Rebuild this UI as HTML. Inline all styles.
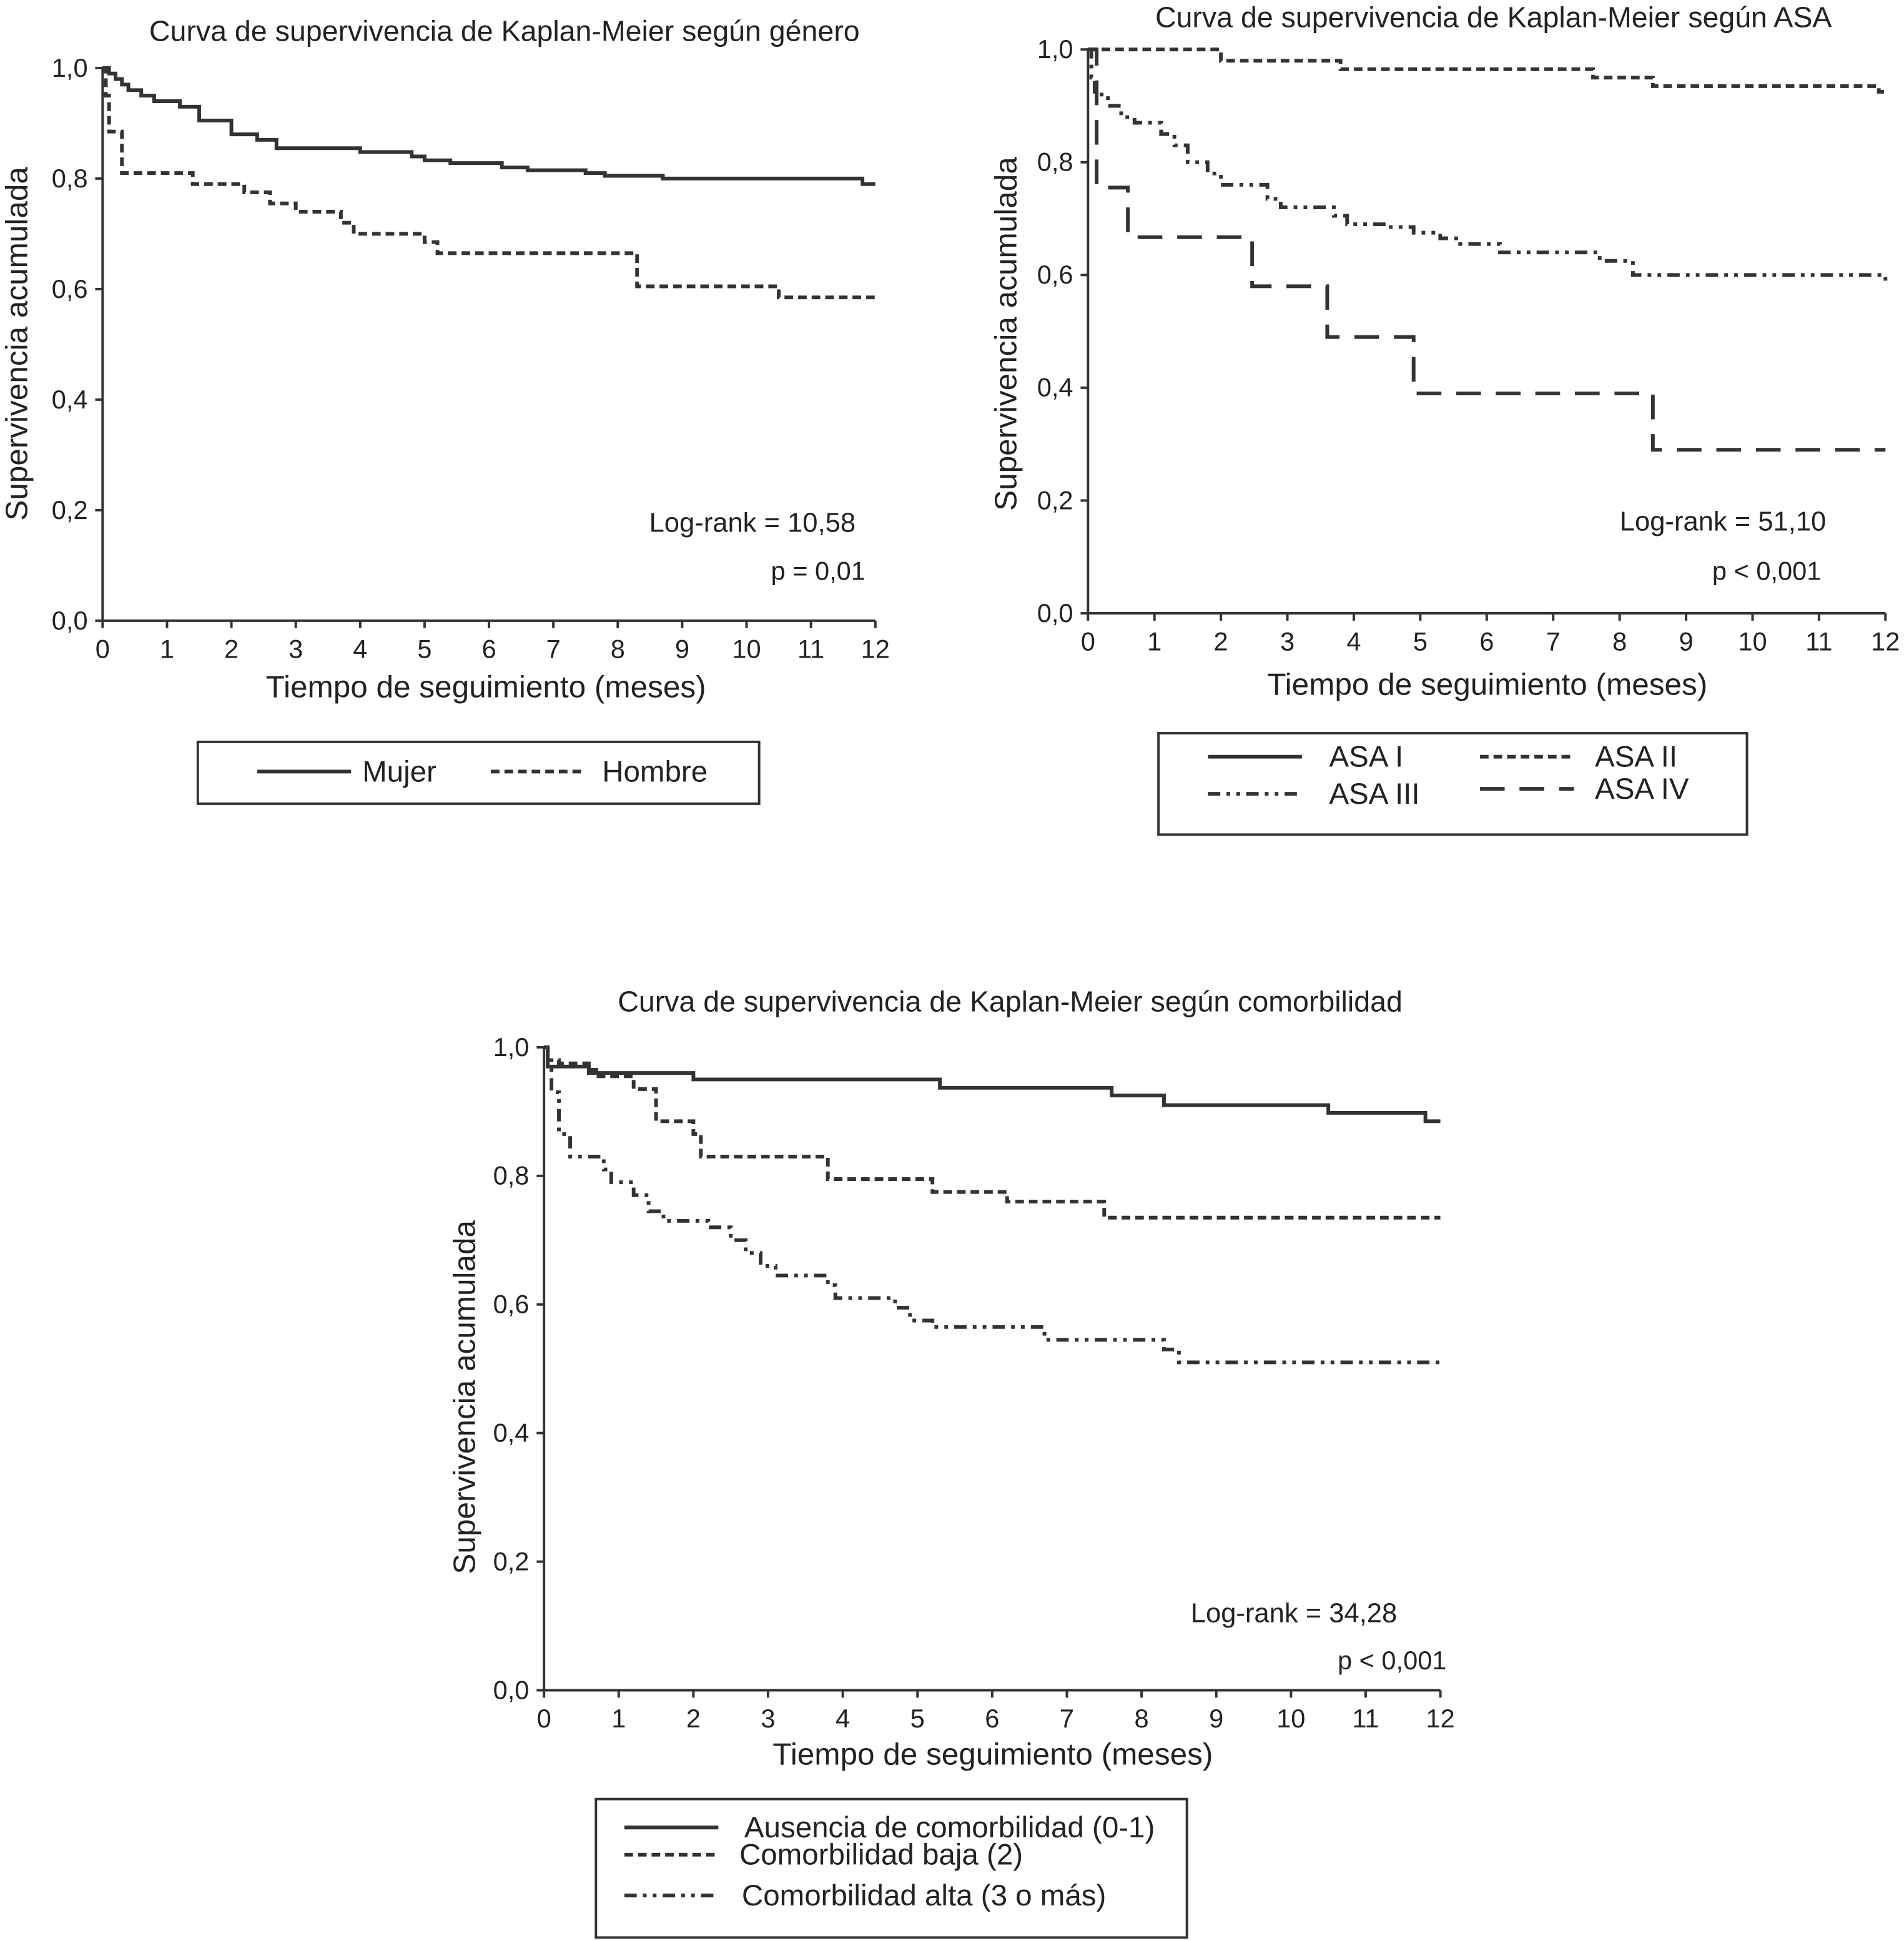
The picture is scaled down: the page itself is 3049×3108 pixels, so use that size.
<!DOCTYPE html>
<html><head><meta charset="utf-8"><style>
html,body{margin:0;padding:0;background:#fff}
svg{display:block}
text{font-family:"Liberation Sans",sans-serif;fill:#222}
</style></head><body>
<svg id="root" width="3049" height="3108" viewBox="0 0 1540 1569.8" xmlns="http://www.w3.org/2000/svg"></svg>
<script>
// ---- Chart 1 data (género)
const mujerT=[0,0.1,0.2,0.3,0.4,0.6,0.8,1.2,1.5,2.0,2.4,2.7,4.0,4.8,5.0,5.4,6.2,6.6,7.5,7.8,8.7,11.8,12];
const mujerS=[1,0.99,0.98,0.97,0.96,0.95,0.94,0.93,0.905,0.88,0.87,0.855,0.848,0.84,0.833,0.828,0.82,0.815,0.81,0.805,0.80,0.79,0.79];
const hombreT=[0,0.05,0.1,0.3,1.4,2.2,2.6,3.0,3.7,3.9,5.0,5.2,8.3,10.5,12];
const hombreS=[1,0.95,0.885,0.81,0.79,0.775,0.755,0.74,0.72,0.70,0.685,0.665,0.605,0.585,0.585];
// ---- Chart 2 data (ASA)
const asa2T=[0,2.0,3.8,7.6,8.5,11.9,12];
const asa2S=[1,0.98,0.965,0.95,0.935,0.925,0.925];
const asa3T=[0,0.05,0.1,0.3,0.5,0.7,1.1,1.3,1.5,1.8,2.0,2.7,2.9,3.7,3.9,4.5,4.9,5.3,5.6,6.2,7.7,8.2,12];
const asa3S=[1,0.95,0.92,0.9,0.88,0.87,0.85,0.83,0.80,0.78,0.76,0.735,0.72,0.705,0.69,0.685,0.675,0.665,0.655,0.64,0.625,0.60,0.59];
const asa4T=[0,0.13,0.6,2.47,3.6,4.9,8.5,12];
const asa4S=[1,0.755,0.667,0.58,0.49,0.39,0.29,0.29];
// ---- Chart 3 data (comorbilidad)
const ausT=[0,0.05,0.6,2.0,5.3,7.6,8.3,10.5,11.8,12];
const ausS=[1,0.97,0.96,0.95,0.937,0.925,0.91,0.898,0.885,0.885];
const bajaT=[0,0.05,0.2,0.6,0.7,1.2,1.5,2.0,2.1,3.8,5.2,6.2,7.5,12];
const bajaS=[1,0.98,0.975,0.965,0.955,0.935,0.885,0.865,0.83,0.795,0.775,0.76,0.735,0.735];
const altaT=[0,0.05,0.1,0.2,0.35,0.8,0.9,1.2,1.4,1.6,2.2,2.5,2.7,2.9,3.1,3.8,3.9,4.7,4.9,5.2,6.7,8.3,8.5,12];
const altaS=[1,0.97,0.93,0.865,0.83,0.81,0.79,0.77,0.745,0.73,0.72,0.70,0.68,0.66,0.645,0.63,0.61,0.595,0.575,0.565,0.545,0.53,0.51,0.51];
const xTicks=[0,1,2,3,4,5,6,7,8,9,10,11,12];
const yTicks=[0,0.2,0.4,0.6,0.8,1.0];

const NS="http://www.w3.org/2000/svg";
const root=document.getElementById('root');
function mk(tag,attrs,parent,txt){const e=document.createElementNS(NS,tag);for(const k in attrs)e.setAttribute(k,attrs[k]);if(txt!==undefined)e.textContent=txt;(parent||root).appendChild(e);return e;}

function chart(cfg){
  const g=mk('g',{});
  
  
  const X=t=>cfg.x0+(cfg.x1-cfg.x0)*t/12;
  const Y=s=>cfg.y0+(cfg.y1-cfg.y0)*s;
  const t=mk('text',{x:cfg.tx,y:cfg.ty,'font-size':23.5,'text-anchor':'middle'},g,cfg.title);
  
  
  const ax=mk('path',{d:`M${cfg.x0},${Y(1)-1}V${cfg.y0}H${cfg.x1}`,stroke:'#333','stroke-width':2,fill:'none'},g);
  
  
  xTicks.forEach(v=>{
    mk('line',{x1:X(v),x2:X(v),y1:cfg.y0,y2:cfg.y0+6,stroke:'#333','stroke-width':2},g);
    const l=mk('text',{x:X(v),y:cfg.y0+30,'font-size':21,'text-anchor':'middle'},g,String(v));
    
    
  });
  yTicks.forEach(v=>{
    mk('line',{x1:cfg.x0-6,x2:cfg.x0,y1:Y(v),y2:Y(v),stroke:'#333','stroke-width':2},g);
    const l=mk('text',{x:cfg.x0-12,y:Y(v)+7,'font-size':21,'text-anchor':'end'},g,v.toFixed(1).replace('.',','));
    
    
  });
  const xt=mk('text',{x:cfg.xtx,y:cfg.xty,'font-size':25,'text-anchor':'middle'},g,'Tiempo de seguimiento (meses)');
  
  
  const yt=mk('text',{x:0,y:0,'font-size':25,'text-anchor':'middle',transform:`translate(${cfg.ytx},${cfg.yty}) rotate(-90)`},g,'Supervivencia acumulada');
  
  
  const lr=mk('text',{x:cfg.lrx,y:cfg.lry,'font-size':22,'text-anchor':'end'},g,cfg.lr);
  
  
  const pv=mk('text',{x:cfg.px,y:cfg.py,'font-size':21,'text-anchor':'end'},g,cfg.p);
  
  
  cfg.series.forEach(s=>{
    let d=`M${X(s.t[0])},${Y(s.s[0])}`;
    for(let i=1;i<s.t.length;i++){d+=`H${X(s.t[i])}V${Y(s.s[i])}`;}
    const p=mk('path',{d:d,stroke:'#333','stroke-width':3,fill:'none','stroke-dasharray':s.dash||'none'},g);
    
    
  });
  const lb=mk('rect',{x:cfg.lb[0],y:cfg.lb[1],width:cfg.lb[2],height:cfg.lb[3],fill:'none',stroke:'#333','stroke-width':2},g);
  
  
  cfg.legend.forEach(e=>{
    const lg=mk('g',{},g);
    
    
    mk('line',{x1:e.x,x2:e.x+76,y1:e.y,y2:e.y,stroke:'#333','stroke-width':3,'stroke-dasharray':e.dash||'none'},lg);
    mk('text',{x:e.tx,y:e.y+8,'font-size':24},lg,e.label);
  });
}

const D1='7 4', D3='10 5 3 5 3 5', D4='20 12';
chart({name:'chart-genero',x0:83,x1:708,y0:502,y1:55,tx:408,ty:33,title:'Curva de supervivencia de Kaplan-Meier según género',
  xtx:393,xty:564,ytx:22,yty:278,lrx:692,lry:430,lr:'Log-rank = 10,58',px:700,py:469,p:'p = 0,01',
  series:[{name:'line-mujer',t:mujerT,s:mujerS},{name:'line-hombre',t:hombreT,s:hombreS,dash:D1}],
  lb:[160,600,454,50],
  legend:[{x:208,y:624,tx:293,label:'Mujer'},{x:397,y:624,tx:487,label:'Hombre',dash:D1}]});
chart({name:'chart-asa',x0:880,x1:1525,y0:496,y1:40,tx:1208,ty:22,title:'Curva de supervivencia de Kaplan-Meier según ASA',
  xtx:1203,xty:562,ytx:822,yty:270,lrx:1477,lry:429,lr:'Log-rank = 51,10',px:1473,py:469,p:'p < 0,001',
  series:[{name:'line-asa-ii',t:asa2T,s:asa2S,dash:D1},{name:'line-asa-iii',t:asa3T,s:asa3S,dash:D3},{name:'line-asa-iv',t:asa4T,s:asa4S,dash:D4}],
  lb:[937,593,476,82],
  legend:[{x:977,y:612,tx:1075,label:'ASA I'},{x:977,y:642,tx:1075,label:'ASA III',dash:D3},{x:1197,y:612,tx:1290,label:'ASA II',dash:D1},{x:1197,y:638,tx:1290,label:'ASA IV',dash:D4}]});
chart({name:'chart-comorbilidad',x0:440,x1:1165,y0:1367,y1:847,tx:817,ty:818,title:'Curva de supervivencia de Kaplan-Meier según comorbilidad',
  xtx:803,xty:1427,ytx:384,yty:1130,lrx:1130,lry:1312,lr:'Log-rank = 34,28',px:1170,py:1350,p:'p < 0,001',
  series:[{name:'line-ausencia',t:ausT,s:ausS},{name:'line-baja',t:bajaT,s:bajaS,dash:D1},{name:'line-alta',t:altaT,s:altaS,dash:D3}],
  lb:[482,1455,478,112],
  legend:[{x:505,y:1478,tx:602,label:'Ausencia de comorbilidad (0-1)'},{x:505,y:1500,tx:598,label:'Comorbilidad baja (2)',dash:D1},{x:505,y:1533,tx:600,label:'Comorbilidad alta (3 o más)',dash:D3}]});
</script>
</body></html>
